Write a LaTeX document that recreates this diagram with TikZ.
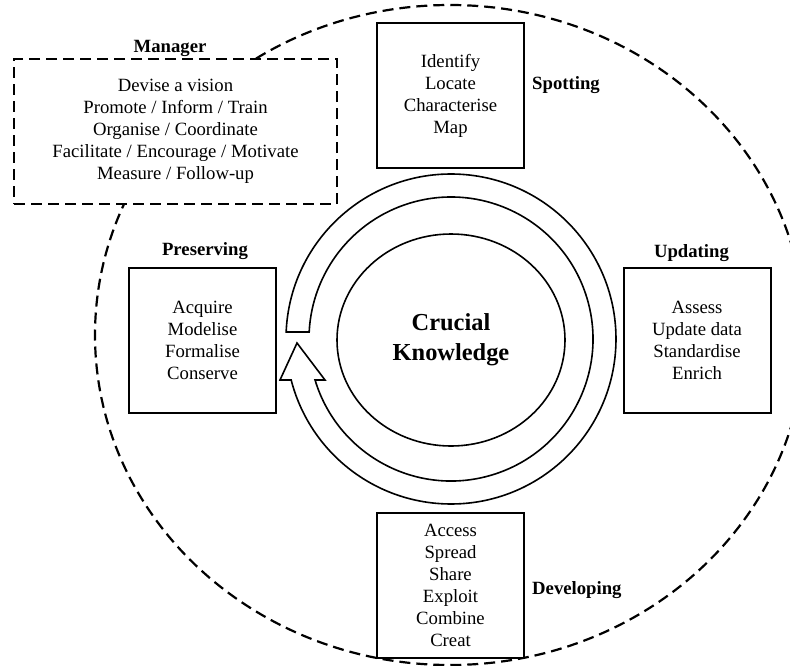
\documentclass[tikz,border=0pt]{standalone}
\usepackage{fontspec}
\setmainfont{Liberation Serif}
\usetikzlibrary{shapes.geometric}
\begin{document}
\begin{tikzpicture}[x=1pt,y=-1pt,
  txt/.style={font=\fontsize{18.7}{22}\selectfont, align=center},
  lbl/.style={font=\fontsize{18.7}{22}\bfseries\selectfont, inner sep=0pt},
  stagebox/.style={txt, draw, line width=2pt, fill=white, inner sep=0pt,
    minimum width=147pt, minimum height=145pt},
  mgrbox/.style={txt, draw, dashed, dash pattern=on 11pt off 6pt, line width=2.2pt,
    fill=white, inner sep=0pt, minimum width=323pt, minimum height=145pt},
  scope/.style={draw, dash pattern=on 11pt off 6pt, line width=2.2pt},
  ringline/.style={draw, line width=1.6pt, fill=white, line join=miter},
  corebox/.style={ellipse, draw, line width=1.6pt, inner sep=0pt,
    minimum width=228pt, minimum height=212pt, align=center,
    font=\fontsize{24.4}{30}\bfseries\selectfont}
]
\useasboundingbox (0,0) rectangle (790,665);
\clip (0,0) rectangle (790,665);

% outer dashed boundary
\draw[scope] (450,335) ellipse [x radius=355, y radius=330];

% circular arrow around the core
\draw[ringline] (286.15,332)
  arc[start angle=182.43, end angle=525.61, radius=165]
  -- (280,380) -- (297,343) -- (325,380) -- (315.05,380)
  arc[start angle=523.22, end angle=182.83, radius=142] -- cycle;

% core
\node[corebox] (core) at (451,340) {Crucial\\Knowledge};

% manager
\node[mgrbox] (manager) at (175.5,131.5)
  {Devise a vision\\Promote / Inform / Train\\Organise / Coordinate\\Facilitate / Encourage / Motivate\\Measure / Follow-up};
\node[lbl, anchor=base] (managerlbl) at (170,52) {Manager};

% stages
\node[stagebox] (spotting) at (450.5,95.5) {Identify\\Locate\\Characterise\\Map};
\node[lbl, anchor=base west] (spottinglbl) at (532,89) {Spotting};

\node[stagebox] (updating) at (697,340) {Assess\\Update data\\Standardise\\Enrich};
\node[lbl, anchor=base] (updatinglbl) at (691.5,257) {Updating};

\node[stagebox] (preserving) at (202.5,340) {Acquire\\Modelise\\Formalise\\Conserve};
\node[lbl, anchor=base] (preservinglbl) at (205,255) {Preserving};

\node[stagebox] (developing) at (450.5,585.5) {Access\\Spread\\Share\\Exploit\\Combine\\Creat};
\node[lbl, anchor=base west] (developinglbl) at (532,594) {Developing};
\end{tikzpicture}
\end{document}
